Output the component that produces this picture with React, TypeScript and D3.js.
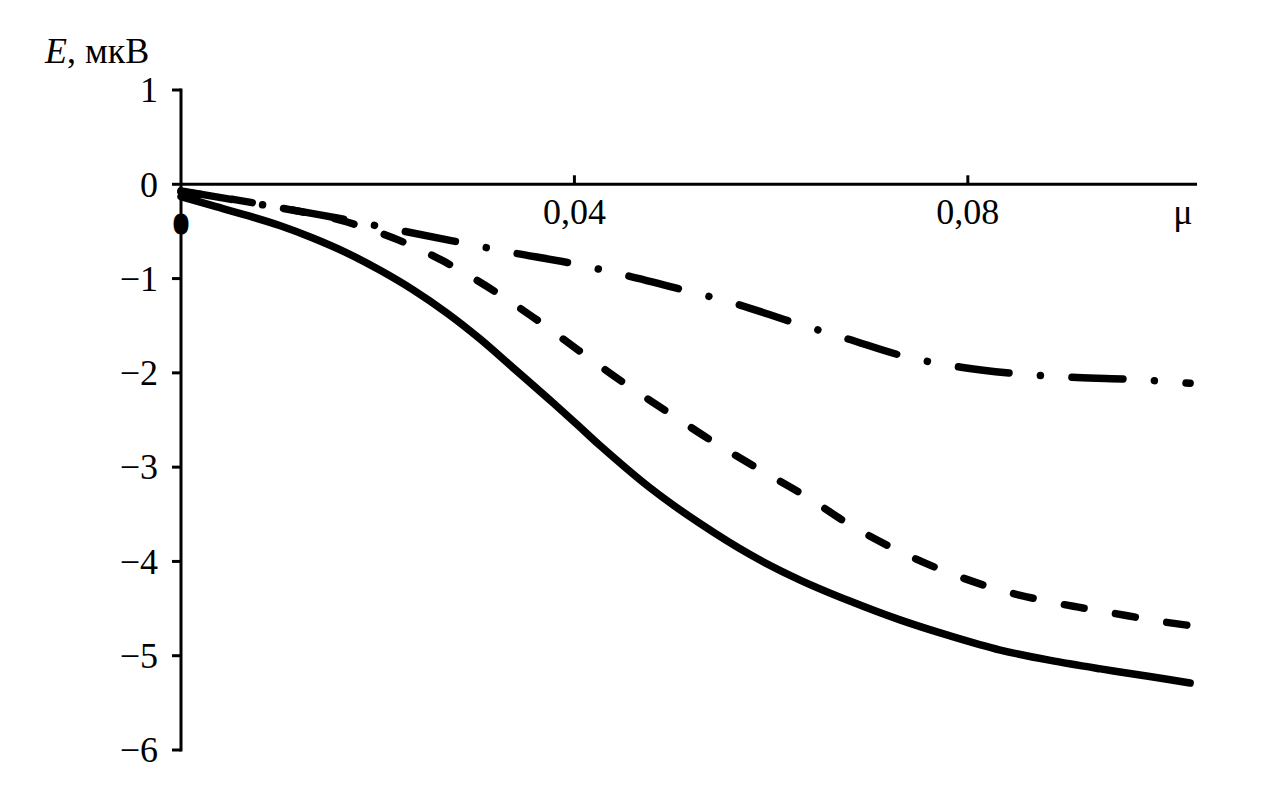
import React from "react";
import * as d3 from "d3";

const muSolid = [0, 0.0033, 0.0067, 0.0101, 0.0134, 0.0169, 0.0202, 0.0236, 0.0271, 0.0304, 0.0338, 0.0372, 0.0403, 0.0426, 0.0477, 0.0528, 0.0579, 0.063, 0.068, 0.0731, 0.0782, 0.0833, 0.0884, 0.0935, 0.0985, 0.1026];
const eSolid = [-0.13, -0.23, -0.33, -0.44, -0.57, -0.73, -0.91, -1.12, -1.37, -1.64, -1.95, -2.26, -2.55, -2.77, -3.22, -3.6, -3.93, -4.2, -4.42, -4.62, -4.79, -4.94, -5.05, -5.14, -5.22, -5.29];

const muDashed = [0, 0.0053, 0.0101, 0.0162, 0.0216, 0.0264, 0.0312, 0.0358, 0.0404, 0.0448, 0.0494, 0.0541, 0.0589, 0.0637, 0.0683, 0.0732, 0.0783, 0.0835, 0.0889, 0.0943, 0.0998, 0.1026];
const eDashed = [-0.08, -0.16, -0.25, -0.38, -0.57, -0.8, -1.09, -1.41, -1.76, -2.09, -2.41, -2.73, -3.03, -3.32, -3.63, -3.9, -4.13, -4.31, -4.44, -4.54, -4.64, -4.68];

const muDashDot = [0, 0.0101, 0.016, 0.0218, 0.0276, 0.0334, 0.0393, 0.045, 0.0507, 0.0565, 0.0621, 0.0678, 0.0734, 0.0793, 0.0851, 0.0911, 0.097, 0.1026];
const eDashDot = [-0.07, -0.25, -0.36, -0.48, -0.6, -0.72, -0.83, -0.96, -1.11, -1.27, -1.46, -1.64, -1.82, -1.94, -2.01, -2.05, -2.07, -2.11];

const yTicks = [1, 0, -1, -2, -3, -4, -5, -6];
const xTicks = [0.04, 0.08];
const xTickLabels = ["0,04", "0,08"];

const FONT = "'Liberation Serif', 'Times New Roman', serif";

export default function App() {
  const x = d3.scaleLinear().domain([0, 0.1033]).range([181, 1197]);
  const y = d3.scaleLinear().domain([-6, 1]).range([750, 90]);

  const line = d3
    .line<[number, number]>()
    .x((d) => x(d[0]))
    .y((d) => y(d[1]))
    .curve(d3.curveCatmullRom.alpha(0.5));

  const series = [
    { mu: muSolid, e: eSolid, dash: undefined as string | undefined },
    { mu: muDashed, e: eDashed, dash: "20 32" },
    { mu: muDashDot, e: eDashDot, dash: "51 31.5 0.01 31.5" },
  ];

  const fmtY = (v: number) => (v < 0 ? "\u2212" + Math.abs(v) : String(v));

  return (
    <svg
      width={1279}
      height={794}
      style={{ position: "absolute", left: 0, top: 0, background: "#fff" }}
    >
      <rect x={0} y={0} width={1279} height={794} fill="#fff" />
      {/* y axis */}
      <line x1={x(0)} x2={x(0)} y1={y(1) - 1.5} y2={y(-6) + 1.5} stroke="#000" strokeWidth={3} />
      {yTicks.map((t) => (
        <g key={t}>
          <line x1={x(0) - 9} x2={x(0)} y1={y(t)} y2={y(t)} stroke="#000" strokeWidth={3} />
          <text
            x={158}
            y={y(t)}
            dy="0.34em"
            textAnchor="end"
            fontFamily={FONT}
            fontSize={36}
            fill="#000"
          >
            {fmtY(t)}
          </text>
        </g>
      ))}
      {/* x axis */}
      <line x1={x(0)} x2={x.range()[1]} y1={y(0)} y2={y(0)} stroke="#000" strokeWidth={3} />
      {xTicks.map((t, i) => (
        <g key={t}>
          <line x1={x(t)} x2={x(t)} y1={y(0) - 9} y2={y(0)} stroke="#000" strokeWidth={3} />
          <text
            x={x(t)}
            y={224}
            textAnchor="middle"
            fontFamily={FONT}
            fontSize={36}
            fill="#000"
          >
            {xTickLabels[i]}
          </text>
        </g>
      ))}
      <text x={1183} y={224} textAnchor="middle" fontFamily={FONT} fontSize={36} fill="#000">
        μ
      </text>
      {/* origin zero */}
      <text
        x={x(0)}
        y={233}
        textAnchor="middle"
        fontFamily={FONT}
        fontSize={28}
        fontWeight="bold"
        fill="#000"
        stroke="#000"
        strokeWidth={3}
      >
        0
      </text>
      {/* y axis title */}
      <text x={45} y={63} fontFamily={FONT} fontSize={36} fill="#000">
        <tspan fontStyle="italic">E</tspan>
        <tspan>, мкВ</tspan>
      </text>
      {/* curves */}
      {series.map((s, i) => (
        <path
          key={i}
          d={line(s.mu.map((m, j) => [m, s.e[j]] as [number, number])) || ""}
          fill="none"
          stroke="#000"
          strokeWidth={7.5}
          strokeLinecap="round"
          strokeLinejoin="round"
          strokeDasharray={s.dash}
        />
      ))}
    </svg>
  );
}
